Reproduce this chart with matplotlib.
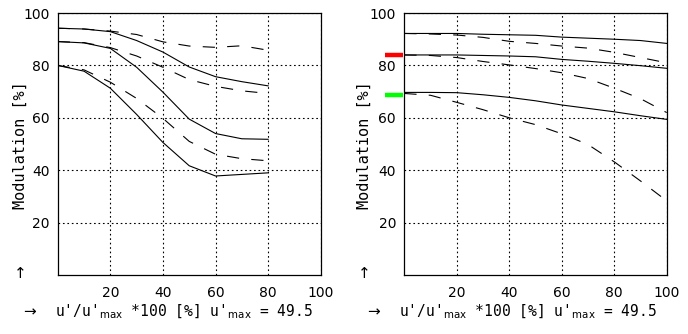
import matplotlib
matplotlib.use("Agg")
import matplotlib.pyplot as plt

# left panel: modulation vs. relative velocity, three start levels
x_left = [0, 10, 20, 30, 40, 50, 60, 70, 80]
left_solid = [
    [94.2, 93.9, 92.9, 89.5, 85.1, 79.4, 75.7, 73.8, 72.2],
    [89.1, 88.6, 86.5, 79.3, 69.8, 59.5, 54.0, 52.0, 51.8],
    [80.0, 77.8, 71.3, 61.3, 50.6, 41.7, 37.8, 38.4, 39.0],
]
left_dashed = [
    [94.2, 93.9, 93.1, 91.8, 89.0, 87.4, 86.9, 87.5, 85.8],
    [89.1, 88.7, 86.8, 83.6, 79.3, 74.6, 72.0, 70.3, 69.3],
    [80.0, 78.3, 73.6, 67.4, 59.8, 51.0, 46.1, 44.4, 43.6],
]

# right panel
x_right = [0, 10, 20, 30, 40, 50, 60, 70, 80, 90, 100]
right_solid = [
    [92.2, 92.2, 92.2, 91.9, 91.7, 91.5, 90.8, 90.4, 90.0, 89.5, 88.4],
    [84.0, 84.0, 84.0, 83.8, 83.6, 83.3, 82.3, 81.6, 80.8, 79.9, 78.9],
    [69.7, 69.7, 69.6, 68.8, 67.8, 66.5, 64.9, 63.6, 62.3, 60.8, 59.4],
]
right_dashed = [
    [92.2, 92.0, 91.6, 90.7, 89.2, 88.4, 87.4, 86.6, 85.0, 83.0, 81.0],
    [84.0, 83.8, 83.0, 81.5, 80.2, 78.8, 77.2, 75.0, 71.3, 67.3, 62.0],
    [69.3, 68.6, 65.9, 63.1, 60.0, 57.4, 53.9, 49.8, 43.2, 35.9, 28.3],
]
marker_levels = [83.8, 68.9]
marker_colors = ["#ff0000", "#00ff00"]

ticks = [20, 40, 60, 80, 100]
ylabel = "Modulation [%]"
xlabel = "u'/u'$_{\\rm max}$ *100 [%] u'$_{\\rm max}$ = 49.5"

plt.rcParams["mathtext.fontset"] = "dejavusans"
fig = plt.figure(figsize=(6.88, 3.34), dpi=100)

ax1 = fig.add_axes([0.0839, 0.1766, 0.3823, 0.7844])
ax2 = fig.add_axes([0.5877, 0.1766, 0.3814, 0.7844])

dash = (0, (11, 11))
for ax, xs, solids, dashes in [(ax1, x_left, left_solid, left_dashed),
                               (ax2, x_right, right_solid, right_dashed)]:
    for ys in solids:
        ax.plot(xs, ys, color="black", lw=0.8)
    for ys in dashes:
        ax.plot(xs, ys, color="black", lw=0.8, linestyle=dash)
    ax.set_xlim(0, 100)
    ax.set_ylim(0, 100)
    ax.set_xticks(ticks)
    ax.set_yticks(ticks)
    ax.tick_params(length=0, labelsize=10, pad=6)
    ax.tick_params(axis="x", pad=8)
    ax.grid(True, color="black", linestyle=(0, (1.5, 2.5)), lw=0.8)
    for sp in ax.spines.values():
        sp.set_linewidth(0.9)

# coloured level marks at the left edge of the right panel
for lev, col in zip(marker_levels, marker_colors):
    ax2.plot([-7.5, -0.6], [lev, lev], color=col, lw=3.2,
             solid_capstyle="butt", clip_on=False)

for x0 in [20, 364]:
    fig.text(x0 / 688, 1 - 145 / 334, ylabel, rotation=90, ha="center",
             va="center", family="DejaVu Sans Mono", fontsize=11)
    fig.text(x0 / 688, 1 - 273 / 334, "\u2191", ha="center", va="center",
             fontsize=11)
    fig.text((x0 + 10) / 688, 1 - 312 / 334, "\u2192", ha="center",
             va="center", fontsize=11)
    fig.text((x0 + 35) / 688, 1 - 312 / 334, xlabel, ha="left",
             va="center", family="DejaVu Sans Mono", fontsize=10.5)

fig.savefig("out.png", dpi=100)
